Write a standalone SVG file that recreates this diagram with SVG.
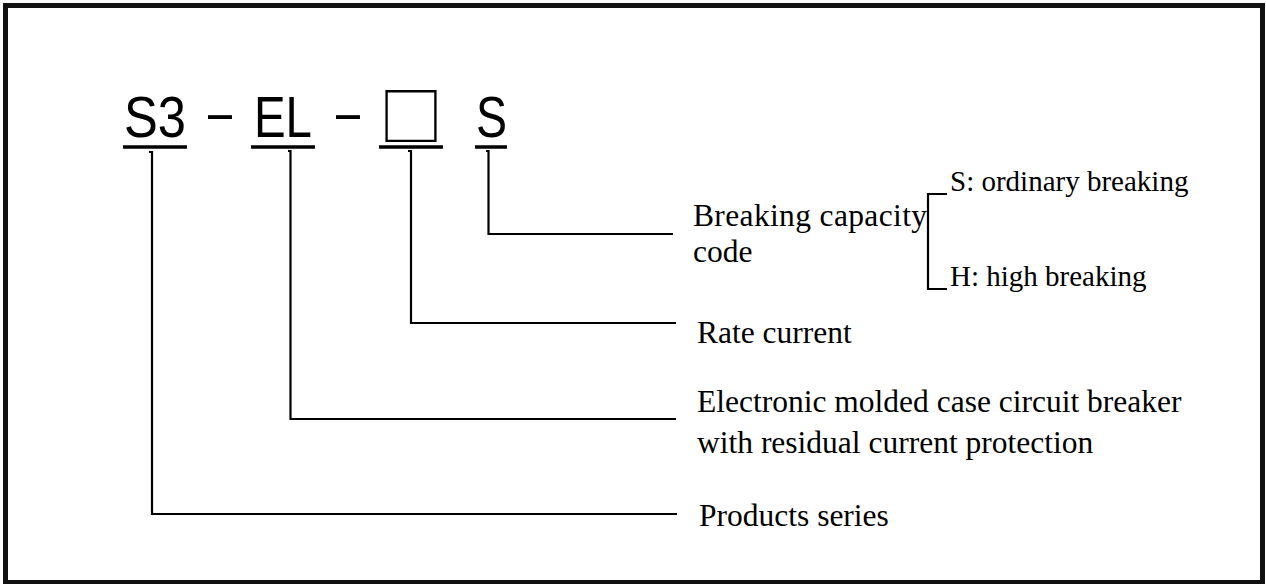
<svg xmlns="http://www.w3.org/2000/svg" width="1266" height="584" viewBox="0 0 1266 584">
<style>
.code{font-family:"Liberation Sans","DejaVu Sans",sans-serif;font-size:57px;fill:#000}
.box{font-family:"Noto Sans CJK SC","Noto Sans CJK JP",sans-serif;font-size:64px;fill:#000}
.lbl{font-family:"Liberation Serif","Times New Roman",serif;font-size:31.5px;fill:#000}
.sub{font-family:"Liberation Serif","Times New Roman",serif;font-size:29px;fill:#000}
.ul{stroke:#000;stroke-width:3.5;fill:none}
.ln{stroke:#000;stroke-width:2.2;fill:none}
</style>
<rect x="5.5" y="5.5" width="1257" height="577" fill="#fff" stroke="#111" stroke-width="5"/>
<g id="code-S3">
<text class="code" x="124" y="137" textLength="62" lengthAdjust="spacingAndGlyphs">S3</text>
<line class="ul" x1="123" y1="147" x2="187" y2="147"/>
</g>
<g id="dash1"><text class="code" x="208" y="132" textLength="24" lengthAdjust="spacingAndGlyphs">–</text></g>
<g id="code-EL">
<text class="code" x="254" y="137" textLength="58" lengthAdjust="spacingAndGlyphs">EL</text>
<line class="ul" x1="251" y1="147" x2="315" y2="147"/>
</g>
<g id="dash2"><text class="code" x="336" y="132" textLength="24" lengthAdjust="spacingAndGlyphs">–</text></g>
<g id="code-box">
<text class="box" x="379" y="140">□</text>
<line class="ul" x1="379" y1="147" x2="443" y2="147"/>
</g>
<g id="code-S">
<text class="code" x="476" y="137" textLength="31" lengthAdjust="spacingAndGlyphs">S</text>
<line class="ul" x1="475" y1="147" x2="507" y2="147"/>
</g>
<g id="connectors">
<polyline class="ln" points="149,152 152,152 152,514 677,514"/>
<polyline class="ln" points="288,151 290.5,151 290.5,419 676,419"/>
<polyline class="ln" points="408,151 411,151 411,323 676,323"/>
<polyline class="ln" points="486,151 488.5,151 488.5,234 673,234"/>
<polyline class="ln" points="947,194 928,194 928,289 947,289"/>
</g>
<g id="desc-breaking">
<text class="lbl" x="693" y="226" textLength="234" lengthAdjust="spacing">Breaking  capacity</text>
<text class="lbl" x="693" y="262">code</text>
</g>
<g id="opt-S"><text class="sub" x="950" y="191">S: ordinary breaking</text></g>
<g id="opt-H"><text class="sub" x="950" y="286">H: high breaking</text></g>
<g id="desc-rate"><text class="lbl" x="697" y="343">Rate current</text></g>
<g id="desc-electronic">
<text class="lbl" x="697" y="412">Electronic molded case circuit breaker</text>
<text class="lbl" x="697" y="453">with residual current protection</text>
</g>
<g id="desc-series"><text class="lbl" x="699" y="526">Products series</text></g>
</svg>
